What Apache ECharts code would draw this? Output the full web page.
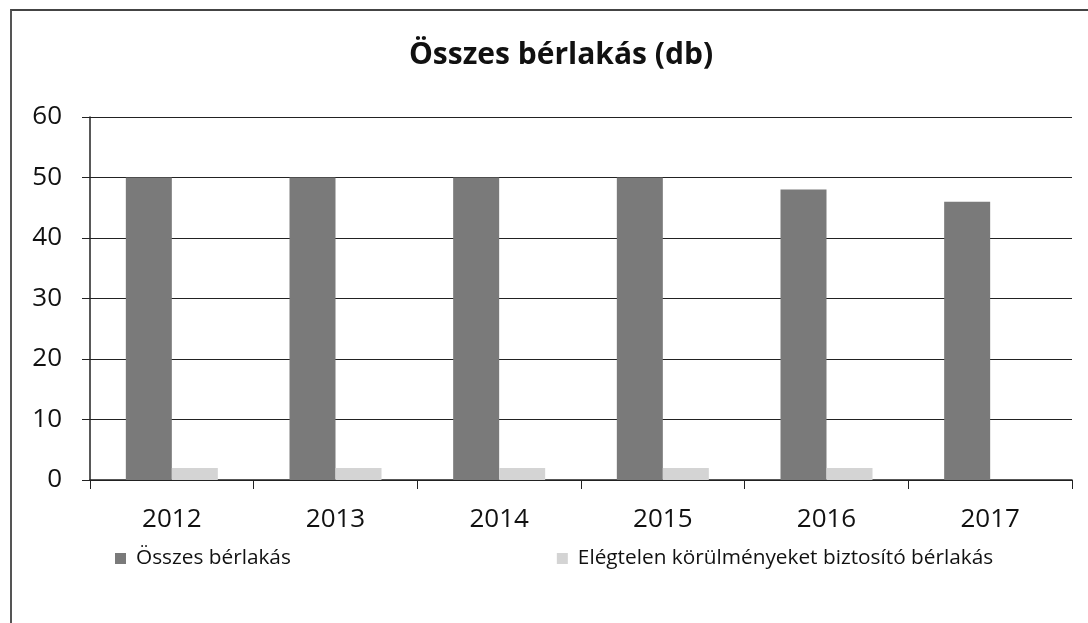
<!DOCTYPE html>
<html>
<head>
<meta charset="utf-8">
<script src="https://cdn.jsdelivr.net/npm/echarts@6/dist/echarts.min.js"></script>
<style>
  html, body { margin: 0; padding: 0; background: #fff; }
  #frame {
    position: absolute; left: 10px; top: 9px; width: 1078px; height: 614px;
    border-top: 2px solid #444; border-left: 2px solid #555; box-sizing: border-box;
  }
  #chart { position: absolute; left: 0; top: 0; width: 1088px; height: 623px; }
</style>
</head>
<body>
<div id="frame"></div>
<div id="chart"></div>
<script>
const years = ["2012", "2013", "2014", "2015", "2016", "2017"]
const osszes = [50, 50, 50, 50, 48, 46]
const elegtelen = [2, 2, 2, 2, 2, 0]
const seriesNames = ["Összes bérlakás", "Elégtelen körülményeket biztosító bérlakás"]

let myChart = echarts.init(document.getElementById("chart"))
const font = "'Open Sans', 'DejaVu Sans', sans-serif"
myChart.setOption({
  animation: false,
  title: {
    text: "Összes bérlakás (db)",
    left: 556,
    textAlign: "center",
    top: 35,
    textStyle: { fontFamily: font, fontSize: 30, fontWeight: "bold", color: "#111" }
  },
  grid: { left: 90, right: 16, top: 117, bottom: 143 },
  legend: {
    top: 543,
    left: 110,
    itemWidth: 11,
    itemHeight: 11,
    itemGap: 266,
    icon: "rect",
    textStyle: { fontFamily: font, fontSize: 20.8, color: "#111", padding: [0, 0, 0, 5] },
    data: seriesNames
  },
  xAxis: {
    type: "category",
    data: years,
    axisLine: { lineStyle: { color: "#222", width: 1.5 } },
    axisTick: { show: true, length: 9, lineStyle: { color: "#222" } },
    axisLabel: { fontFamily: font, fontSize: 26, color: "#111", margin: 27 }
  },
  yAxis: {
    type: "value",
    min: 0,
    max: 60,
    interval: 10,
    axisLine: { show: true, lineStyle: { color: "#222", width: 1.5 } },
    axisTick: { show: true, length: 8, lineStyle: { color: "#222" } },
    axisLabel: { fontFamily: font, fontSize: 26, color: "#111", margin: 28 },
    splitLine: { lineStyle: { color: "#222", width: 1.2 } }
  },
  series: [
    {
      name: seriesNames[0],
      type: "bar",
      data: osszes,
      barWidth: 46,
      barGap: "0%",
      itemStyle: { color: "#7a7a7a" }
    },
    {
      name: seriesNames[1],
      type: "bar",
      data: elegtelen,
      barWidth: 46,
      itemStyle: { color: "#d4d4d4" }
    }
  ]
})
</script>
</body>
</html>
